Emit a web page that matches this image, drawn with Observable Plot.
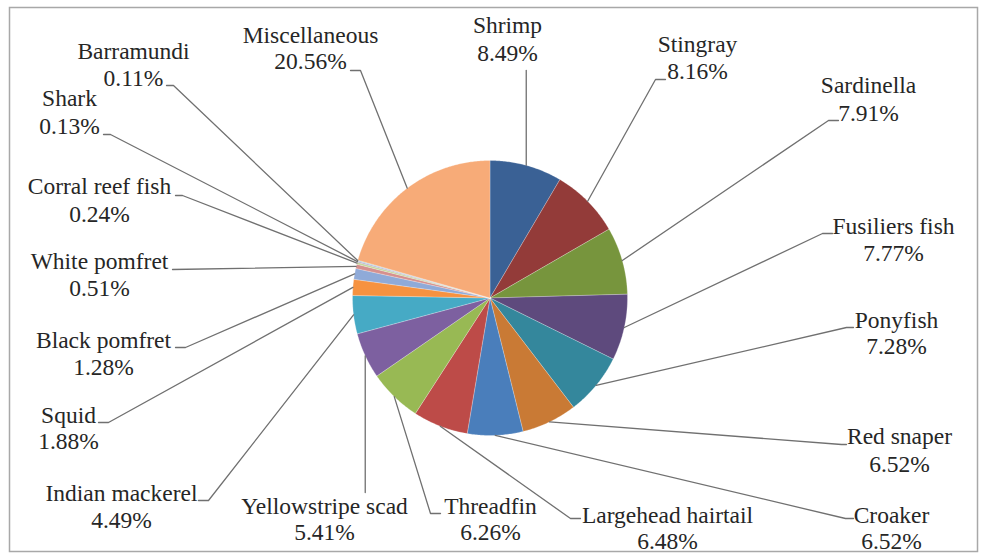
<!DOCTYPE html>
<html><head><meta charset="utf-8">
<script src="https://cdn.jsdelivr.net/npm/d3@7"></script>
<script src="https://cdn.jsdelivr.net/npm/@observablehq/plot@0.6"></script>
<style>html,body{margin:0;padding:0;background:#fff;} #chart svg{display:block}</style>
</head><body><div id="chart"></div>
<script>
// ---- data ----
const categories = ["Shrimp","Stingray","Sardinella","Fusiliers fish","Ponyfish","Red snaper","Croaker","Largehead hairtail","Threadfin","Yellowstripe scad","Indian mackerel","Squid","Black pomfret","White pomfret","Corral reef fish","Shark","Barramundi","Miscellaneous"];
const shares = [8.49,8.16,7.91,7.77,7.28,6.52,6.52,6.48,6.26,5.41,4.49,1.88,1.28,0.51,0.24,0.13,0.11,20.56];

// ---- style ----
const palette = ["#3a6195","#933b39","#77953d","#5e4a7d","#34879c","#c97a35","#4a7ebb","#bd4b48","#98b954","#7d60a0","#46aac5","#f69240","#8faad8","#d6908e","#c3d69b","#b3a2c7","#93cddd","#f7ab78"];

// ---- layout (pixel space) ----
const W = 985, H = 555, CX = 489.5, CY = 297.5, R = 137.5, FS = 23.5;
const FONT = "'Liberation Serif', 'Times New Roman', serif";
// label text centre x, baselines of the two lines, and leader route after the slice point
const labelLayout = {
  "Shrimp":            {tx: 507, y1: 32,  y2: 60,  route: [["P", 70]]},
  "Stingray":          {tx: 697, y1: 51,  y2: 78,  route: [[655, 79], [665, 79]]},
  "Sardinella":        {tx: 868, y1: 92,  y2: 120, route: [[828, 120], [838, 120]]},
  "Fusiliers fish":    {tx: 893, y1: 233, y2: 260, route: [[822, 233], [832, 233]]},
  "Ponyfish":          {tx: 896, y1: 327, y2: 353, route: [[846, 327], [853, 327]]},
  "Red snaper":        {tx: 899, y1: 443, y2: 471, route: [[841, 444], [846, 444]]},
  "Croaker":           {tx: 891, y1: 522, y2: 548, route: [[845, 518], [853, 518]]},
  "Largehead hairtail":{tx: 667, y1: 522, y2: 548, route: [[570, 518], [580, 518]]},
  "Threadfin":         {tx: 490, y1: 513, y2: 539, route: [[430, 513], [440, 513]]},
  "Yellowstripe scad": {tx: 324, y1: 513, y2: 539, route: [["P", 492]]},
  "Indian mackerel":   {tx: 121, y1: 500, y2: 527, route: [[208, 500], [198, 500]]},
  "Squid":             {tx: 68,  y1: 422, y2: 448, route: [[108, 422], [98, 422]]},
  "Black pomfret":     {tx: 103, y1: 347, y2: 374, route: [[185, 347], [175, 347]]},
  "White pomfret":     {tx: 99,  y1: 268, y2: 295, route: [[172, 269]]},
  "Corral reef fish":  {tx: 99,  y1: 193, y2: 221, route: [[182, 195], [175, 195]]},
  "Shark":             {tx: 69,  y1: 105, y2: 133, route: [[110, 134], [103, 134]]},
  "Barramundi":        {tx: 133, y1: 58,  y2: 85,  route: [[173, 85], [166, 85]]},
  "Miscellaneous":     {tx: 310, y1: 42,  y2: 68,  route: [[360, 70], [350, 70]]}
};

// ---- geometry from data ----
const arcs = d3.pie().sort(null).value(d => d)(shares);
const polar = (a, r) => ({x: CX + r * Math.sin(a), y: CY - r * Math.cos(a)});

const slicePts = [];
const leaderPts = [];
const textRows = [];
arcs.forEach((a, i) => {
  const name = categories[i];
  const n = Math.max(2, Math.ceil((a.endAngle - a.startAngle) / 0.01));
  slicePts.push({name, ...polar(0, 0)});
  for (let k = 0; k <= n; k++) {
    const ang = a.startAngle + (a.endAngle - a.startAngle) * k / n;
    slicePts.push({name, ...polar(ang, R)});
  }
  slicePts.push({name, ...polar(0, 0)});

  const mid = (a.startAngle + a.endAngle) / 2;
  const p = polar(mid, R);
  const L = labelLayout[name];
  leaderPts.push({name, x: p.x, y: p.y});
  for (const [rx, ry] of L.route) leaderPts.push({name, x: rx === "P" ? p.x : rx, y: ry});
  textRows.push({x: L.tx, y: L.y1, text: name});
  textRows.push({x: L.tx, y: L.y2, text: shares[i].toFixed(2) + "%"});
});

const chart = Plot.plot({
  width: W, height: H,
  margin: 0,
  x: {domain: [0, W], range: [0, W], axis: null},
  y: {domain: [0, H], range: [0, H], axis: null},
  color: {type: "ordinal", domain: categories, range: palette},
  style: {background: "#fff", fontFamily: FONT},
  marks: [
    Plot.frame({stroke: "#a8a8a8", strokeWidth: 1.5, insetLeft: 9, insetTop: 7, insetRight: 8, insetBottom: 4}),
    Plot.line(slicePts, {x: "x", y: "y", z: "name", fill: "name", stroke: "#ffffff", strokeWidth: 0.4, strokeOpacity: 0.6, curve: "linear"}),
    Plot.line(leaderPts, {x: "x", y: "y", z: "name", stroke: "#707070", strokeWidth: 1.3, curve: "linear"}),
    Plot.text(textRows, {x: "x", y: "y", text: "text", fontSize: FS, fontFamily: FONT, fill: "#262626", textAnchor: "middle", lineAnchor: "bottom"})
  ]
});
document.getElementById("chart").appendChild(chart);
</script>
</body></html>
